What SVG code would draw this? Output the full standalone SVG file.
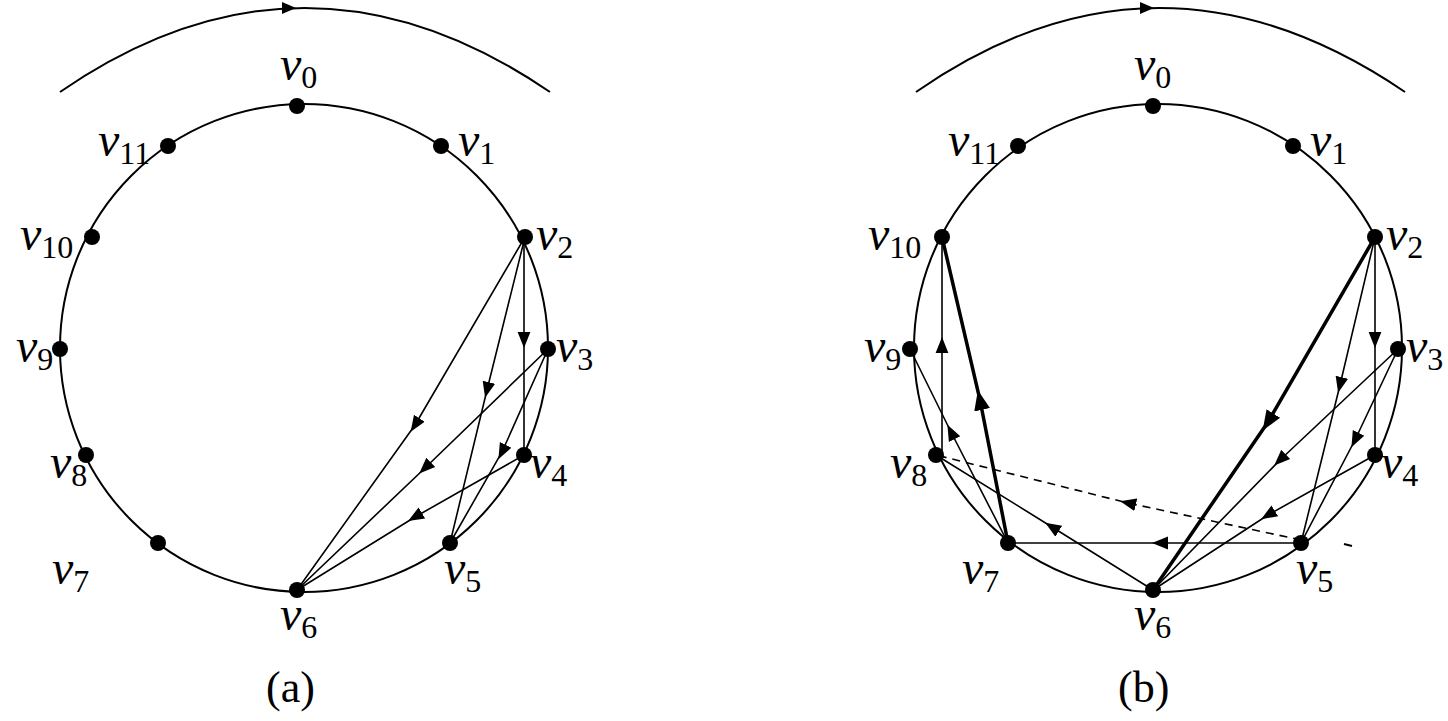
<svg xmlns="http://www.w3.org/2000/svg" width="1448" height="721" viewBox="0 0 1448 721">
<defs>
<marker id="a" viewBox="0 0 10 10" refX="5" refY="5" markerWidth="16" markerHeight="16" markerUnits="userSpaceOnUse" orient="auto"><path d="M0,1 L10,5 L0,9 Z" fill="#000"/></marker>
<marker id="ab" viewBox="0 0 10 10" refX="5" refY="5" markerWidth="20" markerHeight="20" markerUnits="userSpaceOnUse" orient="auto"><path d="M0,1 L10,5 L0,9 Z" fill="#000"/></marker>
</defs>
<style>
.c{fill:none;stroke:#000;stroke-width:2}
.e{fill:none;stroke:#000;stroke-width:1.6;marker-mid:url(#a)}
.t{fill:none;stroke:#000;stroke-width:3.5;marker-mid:url(#ab)}
.d{fill:none;stroke:#000;stroke-width:1.6;stroke-dasharray:8,6;marker-mid:url(#a)}
.n{fill:#000}
text{font-family:"Liberation Serif",serif;font-size:44px}
.v{font-style:italic;font-size:48px}
.s{font-size:32px;font-style:normal}
</style>
<rect width="1448" height="721" fill="#fff"/>
<g id="connectors">
<path class="c" d="M60,92 Q304,-76 550,92"/>
<path d="M282,2 L296,8 L282,14 Z" class="n"/>
<path class="c" d="M916,92 Q1158,-76 1405,92"/>
<path d="M1140,2 L1154,8 L1140,14 Z" class="n"/>
<circle class="c" cx="304" cy="348" r="244"/>
<circle class="c" cx="1158" cy="348" r="244"/>
<path class="e" d="M525,237 L415,425 L297,590"/>
<path class="e" d="M525,237 L487,390 L450,543"/>
<path class="e" d="M524,237 L524,340 L524,455"/>
<path class="e" d="M548,349 L425,468 L297,590"/>
<path class="e" d="M548,349 L502,452 L450,543"/>
<path class="e" d="M524,455 L415,517 L297,590"/>
<path class="t" d="M1375,237 L1268,422 L1153,590"/>
<path class="e" d="M1375,237 L1340,385 L1301,543"/>
<path class="e" d="M1375,237 L1375,340 L1375,455"/>
<path class="e" d="M1398,349 L1280,460 L1153,590"/>
<path class="e" d="M1398,349 L1355,440 L1301,543"/>
<path class="e" d="M1375,455 L1268,515 L1153,590"/>
<path class="e" d="M1301,543 L1160,543 L1008,543"/>
<path class="e" d="M1153,590 L1052,527 L936,455"/>
<path class="e" d="M1008,543 L951,432 L910,349"/>
<path class="e" d="M942,455 L942,345 L942,237"/>
<path class="t" d="M1008,543 L980,400 L942,237"/>
<path class="d" d="M1301,540 L1128,503 L936,455"/>
<path class="c" d="M1344,544 L1352,546" stroke-width="1.6"/>
</g>
<g id="nodes">
<g id="a0"><circle class="n" cx="297" cy="106" r="8"/><text class="v" x="280" y="80">v<tspan class="s" dy="8">0</tspan></text></g>
<g id="a1"><circle class="n" cx="441" cy="146" r="8"/><text class="v" x="458" y="156">v<tspan class="s" dy="8">1</tspan></text></g>
<g id="a2"><circle class="n" cx="525" cy="237" r="8"/><text class="v" x="536" y="250">v<tspan class="s" dy="8">2</tspan></text></g>
<g id="a3"><circle class="n" cx="548" cy="349" r="8"/><text class="v" x="556" y="362">v<tspan class="s" dy="8">3</tspan></text></g>
<g id="a4"><circle class="n" cx="524" cy="455" r="8"/><text class="v" x="530" y="478">v<tspan class="s" dy="8">4</tspan></text></g>
<g id="a5"><circle class="n" cx="450" cy="543" r="8"/><text class="v" x="444" y="584">v<tspan class="s" dy="8">5</tspan></text></g>
<g id="a6"><circle class="n" cx="297" cy="590" r="8"/><text class="v" x="280" y="630">v<tspan class="s" dy="8">6</tspan></text></g>
<g id="a7"><circle class="n" cx="158" cy="543" r="8"/><text class="v" x="52" y="584">v<tspan class="s" dy="8">7</tspan></text></g>
<g id="a8"><circle class="n" cx="86" cy="455" r="8"/><text class="v" x="50" y="478">v<tspan class="s" dy="8">8</tspan></text></g>
<g id="a9"><circle class="n" cx="60" cy="349" r="8"/><text class="v" x="16" y="362">v<tspan class="s" dy="8">9</tspan></text></g>
<g id="a10"><circle class="n" cx="92" cy="237" r="8"/><text class="v" x="20" y="250">v<tspan class="s" dy="8">10</tspan></text></g>
<g id="a11"><circle class="n" cx="168" cy="146" r="8"/><text class="v" x="98" y="156">v<tspan class="s" dy="8">11</tspan></text></g>
<g id="b0"><circle class="n" cx="1153" cy="106" r="8"/><text class="v" x="1134" y="80">v<tspan class="s" dy="8">0</tspan></text></g>
<g id="b1"><circle class="n" cx="1293" cy="146" r="8"/><text class="v" x="1310" y="156">v<tspan class="s" dy="8">1</tspan></text></g>
<g id="b2"><circle class="n" cx="1375" cy="237" r="8"/><text class="v" x="1386" y="250">v<tspan class="s" dy="8">2</tspan></text></g>
<g id="b3"><circle class="n" cx="1398" cy="349" r="8"/><text class="v" x="1406" y="362">v<tspan class="s" dy="8">3</tspan></text></g>
<g id="b4"><circle class="n" cx="1375" cy="455" r="8"/><text class="v" x="1381" y="478">v<tspan class="s" dy="8">4</tspan></text></g>
<g id="b5"><circle class="n" cx="1301" cy="543" r="8"/><text class="v" x="1296" y="584">v<tspan class="s" dy="8">5</tspan></text></g>
<g id="b6"><circle class="n" cx="1153" cy="590" r="8"/><text class="v" x="1134" y="630">v<tspan class="s" dy="8">6</tspan></text></g>
<g id="b7"><circle class="n" cx="1008" cy="543" r="8"/><text class="v" x="962" y="584">v<tspan class="s" dy="8">7</tspan></text></g>
<g id="b8"><circle class="n" cx="936" cy="455" r="8"/><text class="v" x="890" y="478">v<tspan class="s" dy="8">8</tspan></text></g>
<g id="b9"><circle class="n" cx="910" cy="349" r="8"/><text class="v" x="864" y="362">v<tspan class="s" dy="8">9</tspan></text></g>
<g id="b10"><circle class="n" cx="942" cy="237" r="8"/><text class="v" x="868" y="250">v<tspan class="s" dy="8">10</tspan></text></g>
<g id="b11"><circle class="n" cx="1018" cy="146" r="8"/><text class="v" x="948" y="156">v<tspan class="s" dy="8">11</tspan></text></g>
</g>
<text x="266" y="702">(a)</text>
<text x="1118" y="702">(b)</text>
</svg>
